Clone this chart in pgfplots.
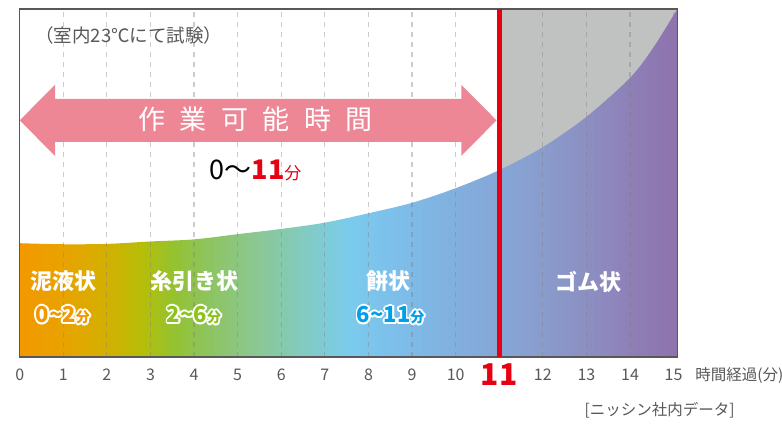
\documentclass[border=0pt]{standalone}
\usepackage{fontspec}
\setmainfont{Noto Sans CJK JP}
\usepackage{pgfplots}
\pgfplotsset{compat=1.18}

\definecolor{tickgray}{HTML}{595757}
\definecolor{framec}{HTML}{595757}
\definecolor{redc}{HTML}{E60012}
\definecolor{pinkc}{HTML}{ED8796}
\definecolor{grayc}{HTML}{C0C1C1}
\definecolor{orangec}{HTML}{F39800}
\definecolor{greenc}{HTML}{8DC21F}
\definecolor{bluec}{HTML}{00A0E9}
% gradient stops, left to right
\definecolor{g00}{HTML}{F39800}
\definecolor{g01}{HTML}{E8A300}
\definecolor{g02}{HTML}{D3B000}
\definecolor{g03}{HTML}{B6BE08}
\definecolor{g04}{HTML}{95C22E}
\definecolor{g05}{HTML}{8DC45E}
\definecolor{g06}{HTML}{8CC78E}
\definecolor{g07}{HTML}{82CBBF}
\definecolor{g08}{HTML}{7BCCEC}
\definecolor{g09}{HTML}{7CC0EB}
\definecolor{g10}{HTML}{82AFDE}
\definecolor{g11}{HTML}{85A6D7}
\definecolor{g12}{HTML}{899CCC}
\definecolor{g13}{HTML}{8C8FC2}
\definecolor{g14}{HTML}{8E80B7}
\definecolor{g15}{HTML}{8E72AE}

% 25bp..75bp is mapped onto x = 0..15.085
\pgfdeclarehorizontalshading{stages}{100bp}{%
  color(0bp)=(g00); color(25bp)=(g00); color(28.31bp)=(g01);
  color(31.63bp)=(g02); color(34.28bp)=(g03); color(36.6bp)=(g04);
  color(39.25bp)=(g05); color(42.57bp)=(g06); color(46.54bp)=(g07);
  color(49.86bp)=(g08); color(53.17bp)=(g09); color(58.15bp)=(g10);
  color(61.46bp)=(g11); color(64.78bp)=(g12); color(68.09bp)=(g13);
  color(71.4bp)=(g14); color(75bp)=(g15); color(100bp)=(g15)}

\newcommand\numfont{\bfseries\fontsize{22}{22}\selectfont}
\newcommand\fun{{\fontsize{14}{14}\selectfont 分}}
% coloured text with a white rim
\newcommand\halo[3]{%
  \foreach \a in {0,30,...,330}{\node[text=white, shift={(\a:1.8pt)}] at (#1) {#3};}%
  \node[text=#2] at (#1) {#3};}

\begin{document}
\begin{tikzpicture}
\useasboundingbox (-19.7pt,-69pt) rectangle (762.3pt,357pt);
\begin{axis}[
  at={(0,0)}, anchor=south west,
  scale only axis, width=657.6pt, height=348pt,
  xmin=0, xmax=15.085, ymin=0, ymax=100,
  axis on top,
  axis line style={draw=framec, line width=1.3pt},
  xtick={0,1,...,15}, ytick=\empty,
  xticklabels={0,1,2,3,4,5,6,7,8,9,10,
    {\textcolor{redc}{\bfseries\fontsize{30}{30}\selectfont 11}},12,13,14,15},
  major tick length=0pt,
  xticklabel style={font=\fontsize{16}{16}\selectfont, text=tickgray,
    anchor=center, yshift=-18pt},
  xmajorgrids,
  major grid style={draw=gray, opacity=0.4, line width=1.2pt,
    dash pattern=on 5pt off 5pt},
]
% rubber zone background
\addplot[fill=grayc, draw=none] coordinates {(11,0)(11,100)(15.085,100)(15.085,0)} \closedcycle;
% viscosity curve
\addplot[shade, shading=stages, draw=none, smooth] coordinates {
  (0,32.7)(1,32.4)(2,32.5)(3,33.2)(4,33.8)(5,35.3)(6,36.8)(7,38.6)
  (8,41.3)(9,44.3)(10,48.5)(11,53.7)(12,60.3)(13,69.0)(14,80.2)
  (14.54,89.0)(15.085,100)} \closedcycle;
\end{axis}

\begin{scope}[x=43.59pt, y=3.48pt]
\draw[redc, line width=5pt] (11,0) -- (11,100);
\fill[pinkc] (0,68.0) -- (0.81,78.2) -- (0.81,74.2) -- (10.13,74.2) -- (10.13,78.2)
  -- (10.94,68.0) -- (10.13,57.8) -- (10.13,61.8) -- (0.81,61.8) -- (0.81,57.8) -- cycle;
\node[text=white, font=\fontsize{27}{27}\selectfont] at (5.41,68.2)
  {作\hspace{14.5pt}業\hspace{14.5pt}可\hspace{14.5pt}能\hspace{14.5pt}時\hspace{14.5pt}間};
\node[anchor=base, font=\fontsize{27}{27}\selectfont] at (5.41,51.1)
  {0～\textcolor{redc}{\bfseries 11{\mdseries\fontsize{17}{17}\selectfont 分}}};
\node[anchor=west, text=tickgray, font=\fontsize{18.5}{18.5}\selectfont] at (0.28,92.4)
  {（室内23℃にて試験）};

\begin{scope}[every node/.style={text=white, font=\bfseries\fontsize{22}{22}\selectfont}]
\node at (1.0,21.7) {泥液状};
\node at (4.0,21.7) {糸引き状};
\node at (8.47,21.7) {餅状};
\node at (13.04,21.7) {ゴム状};
\end{scope}
\halo{0.99,12.0}{orangec}{\numfont 0\textasciitilde2\fun}
\halo{4.0,12.0}{greenc}{\numfont 2\textasciitilde6\fun}
\halo{8.51,12.0}{bluec}{\numfont 6\textasciitilde11\fun}

\node[anchor=west, text=tickgray, font=\fontsize{15.5}{15.5}\selectfont] at (15.42,-5.2)
  {時間経過(分)};
\node[text=tickgray, font=\fontsize{15.5}{15.5}\selectfont] at (14.68,-15.2)
  {[ニッシン社内データ]};
\end{scope}
\end{tikzpicture}
\end{document}
